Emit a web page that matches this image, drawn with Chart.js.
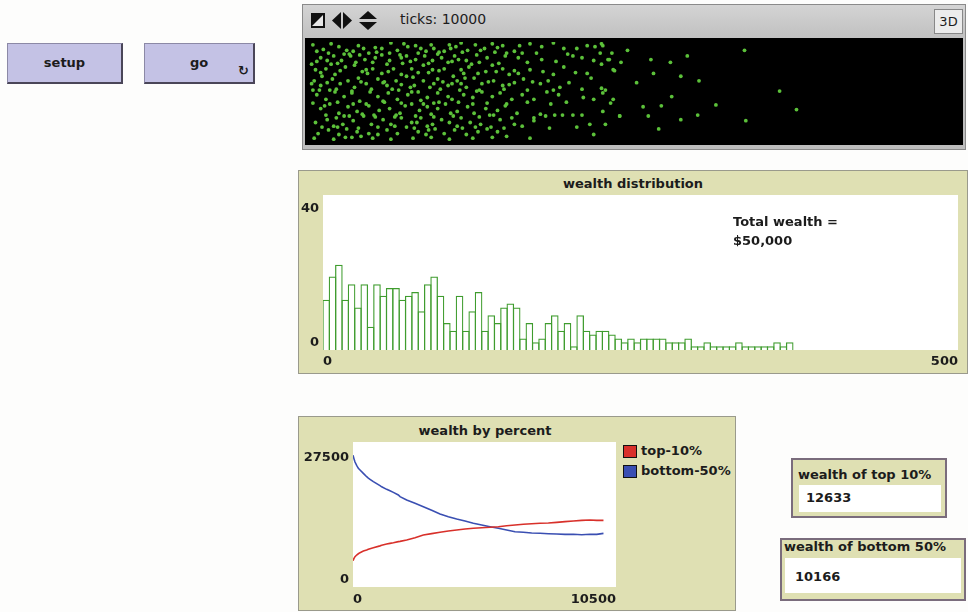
<!DOCTYPE html>
<html><head><meta charset="utf-8">
<script src="https://cdn.jsdelivr.net/npm/chart.js@4.4.1/dist/chart.umd.min.js"></script>
<style>
html,body{margin:0;padding:0;}
body{width:968px;height:612px;background:#fdfdfc;position:relative;overflow:hidden;font-family:"DejaVu Sans",sans-serif;color:#1c1c1c;}
.a{position:absolute;box-sizing:border-box;}
.btn{background:#c4c2e5;border-top:1px solid #8c89a6;border-left:1px solid #8c89a6;border-right:2px solid #4a4658;border-bottom:2px solid #4a4658;font-weight:bold;font-size:13px;text-align:center;}
.wid{background:#dfe0b3;border:1px solid #9a9a8c;}
.title{font-weight:bold;font-size:13px;text-align:center;line-height:15px;}
.mon{background:#dfe0b3;border:2px solid #7a6c7c;}
.lbl{font-weight:bold;font-size:13px;line-height:16px;white-space:nowrap;}
canvas{position:absolute;}
</style></head><body>
<div class="a btn" style="left:7px;top:43px;width:116px;height:41px;line-height:38px;">setup</div>
<div class="a btn" style="left:144px;top:43px;width:111px;height:41px;line-height:38px;">go</div>
<div class="a" style="left:238px;top:63px;font-size:13px;font-weight:bold;">↻</div>

<div class="a" style="left:302px;top:4px;width:664px;height:146px;background:linear-gradient(#d4d4d4,#c2c2c2 30px,#bdbdbd);border:1px solid #8a8a8a;"></div>
<svg class="a" style="left:310px;top:11px" width="72" height="20" viewBox="0 0 72 20">
  <rect x="1" y="2" width="14" height="15" fill="#111"/><polygon points="13,4 13,15 2,15" fill="#e8e8e8"/>
  <polygon points="22,9.5 31,1 31,18" fill="#111"/><polygon points="33,1 42,9.5 33,18" fill="#111"/>
  <polygon points="49,8 58,0 67,8" fill="#111"/><polygon points="49,11 67,11 58,19" fill="#111"/>
</svg>
<div class="a" style="left:400px;top:11px;font-size:14px;">ticks: 10000</div>
<div class="a" style="left:934px;top:9px;width:29px;height:25px;background:#ececec;border:1px solid #888;font-size:13px;line-height:23px;text-align:center;">3D</div>
<div class="a" style="left:305px;top:38px;width:658px;height:107px;background:#000;"></div>
<canvas id="view" width="658" height="107" style="left:305px;top:38px;width:658px;height:107px;"></canvas>

<div class="a wid" style="left:298px;top:170px;width:670px;height:204px;"></div>
<div class="a title" style="left:298px;top:176px;width:670px;">wealth distribution</div>
<div class="a" style="left:323px;top:195px;width:635px;height:155px;background:#fff;"></div>
<canvas id="hist" width="670" height="177" style="left:298px;top:195px;width:670px;height:177px;"></canvas>
<div class="a lbl" style="left:733px;top:212px;line-height:19px;">Total wealth =<br>$50,000</div>

<div class="a wid" style="left:298px;top:416px;width:438px;height:195px;"></div>
<div class="a title" style="left:298px;top:423px;width:374px;">wealth by percent</div>
<div class="a" style="left:353px;top:442px;width:263px;height:145px;background:#fff;"></div>
<canvas id="pct" width="320" height="168" style="left:298px;top:442px;width:320px;height:168px;"></canvas>
<div id="legend" class="a" style="left:623px;top:445px;"></div>

<div class="a mon" style="left:791px;top:458px;width:156px;height:60px;"></div>
<div class="a lbl" style="left:798px;top:467px;">wealth of top 10%</div>
<div class="a" style="left:799px;top:485px;width:142px;height:27px;background:#fff;"></div>
<div id="m1" class="a lbl" style="left:806px;top:490px;"></div>
<div class="a mon" style="left:780px;top:538px;width:186px;height:63px;"></div>
<div class="a lbl" style="left:784px;top:539px;">wealth of bottom 50%</div>
<div class="a" style="left:785px;top:558px;width:176px;height:35px;background:#fff;"></div>
<div id="m2" class="a lbl" style="left:795px;top:569px;"></div>

<script>
// ---------- data ----------
// histogram: number of turtles per $5 wealth bin, starting at $0
const binWidth = 5;
const histCounts = [13,19,22,13,17,11,17,6,17,14,16,16,13,14,15,10,17,19,14,7,5,14,5,10,
  15,5,9,7,11,12,11,3,7,2,3,7,9,5,7,1,9,5,4,5,
  5,4,3,2,3,2,3,3,3,3,2,2,2,3,1,1,2,1,1,1,1,2,1,1,1,1,1,2,1,2];
const histXLabels = ['0','500'];
const histYLabels = ['0','40'];

// wealth by percent over time
const pctTicks   = [0,40,80,146,213,280,413,546,612,679,812,1078,1145,1344,1477,1611,1810,1877,2143,2476,2808,3141,3474,3807,4139,4472,4805,5138,5470,5803,6136,6469,6801,7134,7467,7800,8132,8465,8798,9131,9463,9730,10000];
const top10      = [5000,5440,5750,6070,6300,6510,6830,7000,7140,7260,7460,7800,7900,8150,8280,8400,8600,8650,8910,9360,9860,10120,10370,10620,10810,11000,11130,11250,11320,11440,11630,11760,11890,12010,12080,12140,12260,12390,12520,12640,12710,12640,12633];
const bottom50   = [25000,24300,23700,23070,22500,22190,21560,20920,20650,20420,19980,19220,19000,18520,18250,17950,17450,17130,16500,15870,15240,14540,13850,13340,12900,12520,12080,11760,11440,11130,10810,10490,10370,10240,10180,10110,10050,9990,9990,9920,9990,9990,10166];
const pctLabels  = ['top-10%','bottom-50%'];
const pctColors  = ['#d8302a','#3a4fb2'];
const pctXLabels = ['0','10500'];
const pctYLabels = ['0','27500'];
const monitorValues = [12633, 10166];

// turtles in the view: x = wealth, y = vertical position
const turtleW = [6,11,23,29,34,42,46,56,63,68,76,82,86,90,96,104,109,117,122,132,135,141,149,152,158,164,170,179,188,196,206,214,220,225,233,
 2,9,14,19,25,32,39,43,49,56,62,71,75,82,89,95,102,107,112,121,125,137,151,161,179,203,210,219,231,240,
 5,13,20,28,35,41,49,56,65,71,79,88,95,104,111,117,123,130,141,149,154,161,170,188,196,214,234,
 4,9,18,24,30,35,44,53,60,67,75,81,88,93,99,107,114,121,127,133,142,149,158,165,178,184,193,217,225,
 6,13,20,27,33,39,47,53,61,68,76,84,91,99,107,110,119,126,133,141,147,156,164,173,183,192,198,211,219,226,
 9,16,23,30,37,46,54,62,70,79,85,91,99,105,114,122,127,136,145,151,160,173,182,189,203,210,226,239,
 5,14,21,26,34,42,48,57,63,71,79,86,95,102,108,117,124,132,140,147,158,173,206,216,228,
 7,15,23,29,37,46,53,60,68,75,84,90,97,104,112,121,130,137,145,152,219,
 226,224,230,235,228,234,239,245,252,257,261,263,265,271,269,278,279,286,286,291,299,300,313,335,336,362,375,
 10,17,27,38,51,58,64,72,80,92,100,110,115,3,12,22,31,40,50,58,66,74,83,92,100,109,118,126,44,86,16,28,62,78,96,108,120,131,139,144,
 3,17,38,51,73,94,113,128,145,162,
 15,31,52,70,84,99,118,129,143,175,199,
 6,22,36,60,78,92,110,131,146,168,190,225,
 9,24,45,61,84,100,119,136,158,180,205,
 2,14,40,57,71,96,103,117,138,154,172,200,
 8,21,33,48,69,79,101,116,129,150,168,188,210,
 3,22,34,44,57,71,88,96,115,137,152,168,186,232,
 13,27,41,51,67,82,94,111,131,142,156,178,195,
 10,19,38,53,66,81,91,114,128,150,164,185,
 4,19,33,49,63,80,94,108,126,141,170];
const turtleY = [97,99,102,98,97,100,95,100,106,98,102,103,100,97,100,97,100,106,98,98,100,105,103,95,97,95,105,102,106,100,100,103,102,105,95,
 83,90,87,92,87,92,93,88,85,93,87,90,92,88,92,87,90,85,92,87,83,90,92,90,88,92,90,87,88,85,
 77,78,72,80,82,75,78,73,78,72,78,82,77,78,70,77,80,73,82,78,72,73,77,72,80,73,77,
 65,60,67,62,65,58,62,67,60,65,70,60,65,58,67,60,65,58,68,62,65,60,63,67,62,65,58,68,57,
 50,45,53,48,52,43,53,48,52,45,50,53,47,52,48,45,50,47,53,48,52,45,50,45,53,50,42,47,45,52,
 35,40,30,37,32,38,33,35,30,40,33,37,35,40,32,37,30,35,33,38,30,25,27,28,28,28,32,27,
 20,23,25,18,22,27,18,23,18,25,20,25,18,23,20,25,20,18,15,23,18,22,15,18,18,
 8,12,7,13,10,8,7,12,8,15,10,7,13,8,12,7,10,13,10,5,7,
 103,95,88,76,55,45,27,98,63,37,27,88,73,38,13,85,48,70,23,92,28,65,39,98,22,54,34,
 70,83,94,68,90,64,56,84,69,74,96,62,88,55,38,15,27,5,28,42,26,38,20,12,42,30,14,40,77,44,55,4,95,58,26,104,68,55,28,75,
 104,105,103,101,105,104,102,104,101,103,
 95,94,96,93,95,94,96,93,96,95,94,
 86,84,85,83,86,84,86,85,84,85,86,83,
 74,76,73,75,74,76,73,75,76,75,74,
 62,63,64,63,61,62,64,62,64,61,64,63,
 55,56,54,56,55,53,56,55,54,56,55,55,56,
 41,42,40,40,43,41,40,41,42,41,40,42,40,41,
 28,27,29,26,28,27,29,27,26,28,25,29,28,
 15,16,14,15,16,14,16,16,15,14,16,14,
 3,2,4,3,2,3,4,2,3,4,3];

// ---------- helpers ----------
const FAM = "'DejaVu Sans', sans-serif";
Chart.defaults.font.family = FAM;
Chart.defaults.color = '#1c1c1c';
function fitTo(w, h) {
  return function (s) {
    if (w !== null) s.width = w;
    if (h !== null) s.height = h;
    s.paddingTop = 0; s.paddingBottom = 0; s.paddingLeft = 0; s.paddingRight = 0;
  };
}
function setTicks(labels) {
  return function (s) { s.ticks = labels.map(t => ({ value: Number(t) })); };
}
function yFont(topLH, botLH) {
  return ctx => ({ family: FAM, weight: 'bold', size: 13,
    lineHeight: ((ctx.tick && ctx.tick.value > 0) ? topLH : botLH) + 'px' });
}
function yLabel(labels) {
  return (v, i) => (i === labels.length - 1 ? ['', labels[i]] : [labels[i], '']);
}
const noGrid = { display: false, drawTicks: false };
const common = { responsive: false, animation: false, devicePixelRatio: 1,
  plugins: { legend: { display: false }, tooltip: { enabled: false } } };

// ---------- view ----------
new Chart(document.getElementById('view'), {
  type: 'scatter',
  data: { datasets: [{ data: turtleW.map((w, i) => ({ x: w, y: turtleY[i] })),
    pointRadius: 1.9, pointBackgroundColor: '#5cc13a', pointBorderWidth: 0 }] },
  options: Object.assign({}, common, {
    layout: { padding: 0 },
    scales: { x: { type: 'linear', min: 0, max: 500, display: false },
              y: { type: 'linear', min: 0, max: 107, display: false } } })
});

// ---------- histogram ----------
new Chart(document.getElementById('hist'), {
  type: 'bar',
  data: { datasets: [{ data: histCounts.map((c, i) => ({ x: i * binWidth + binWidth / 2, y: c })),
    backgroundColor: 'rgba(255,255,255,0)', borderColor: '#3f9c2e', borderWidth: 1.25, inflateAmount: 0,
    categoryPercentage: 1, barPercentage: 1.2 }] },
  options: Object.assign({}, common, {
    layout: { padding: { left: 0, right: 10, top: 0, bottom: 0 } },
    scales: {
      x: { type: 'linear', min: 0, max: 500, offset: false, grid: noGrid, border: { display: false },
           afterBuildTicks: setTicks(histXLabels), afterFit: fitTo(null, 22),
           ticks: { align: 'inner', maxRotation: 0, padding: 4, autoSkip: false,
                    font: { family: FAM, weight: 'bold', size: 13 }, callback: (v, i) => histXLabels[i] } },
      y: { type: 'linear', min: 0, max: 40, grid: noGrid, border: { display: false },
           afterBuildTicks: setTicks(histYLabels), afterFit: fitTo(25, null),
           ticks: { padding: 4, autoSkip: false, font: yFont(27, 14), callback: yLabel(histYLabels) } }
    } })
});

// ---------- wealth by percent ----------
const pctSeries = [top10, bottom50];
const pctChart = new Chart(document.getElementById('pct'), {
  type: 'line',
  data: { datasets: pctSeries.map((s, k) => ({ label: pctLabels[k],
    data: s.map((v, i) => ({ x: pctTicks[i], y: v })),
    borderColor: pctColors[k], backgroundColor: pctColors[k], borderWidth: 1.6, pointRadius: 0, tension: 0 })) },
  options: Object.assign({}, common, {
    layout: { padding: { left: 0, right: 2, top: 0, bottom: 0 } },
    scales: {
      x: { type: 'linear', min: 0, max: 10500, grid: noGrid, border: { display: false },
           afterBuildTicks: setTicks(pctXLabels), afterFit: fitTo(null, 23),
           ticks: { align: 'inner', maxRotation: 0, padding: 5, autoSkip: false,
                    font: { family: FAM, weight: 'bold', size: 13 }, callback: (v, i) => pctXLabels[i] } },
      y: { type: 'linear', min: 0, max: 27500, grid: noGrid, border: { display: false },
           afterBuildTicks: setTicks(pctYLabels), afterFit: fitTo(55, null),
           ticks: { padding: 4, autoSkip: false, font: yFont(32, 14), callback: yLabel(pctYLabels) } }
    } })
});

// legend built from the chart's datasets
const lg = document.getElementById('legend');
pctChart.data.datasets.forEach((d, i) => {
  const row = document.createElement('div');
  row.style.cssText = 'position:absolute;left:0;top:' + (i * 20) + 'px;white-space:nowrap;';
  row.innerHTML = '<span style="position:absolute;left:0;top:0;width:14px;height:13px;box-sizing:border-box;border:1px solid #111;background:' +
    d.borderColor + '"></span><span style="position:absolute;left:18px;top:-2px;font-weight:bold;font-size:13px;line-height:16px;">' + d.label + '</span>';
  lg.appendChild(row);
});
document.getElementById('m1').textContent = monitorValues[0];
document.getElementById('m2').textContent = monitorValues[1];
</script>
</body></html>
